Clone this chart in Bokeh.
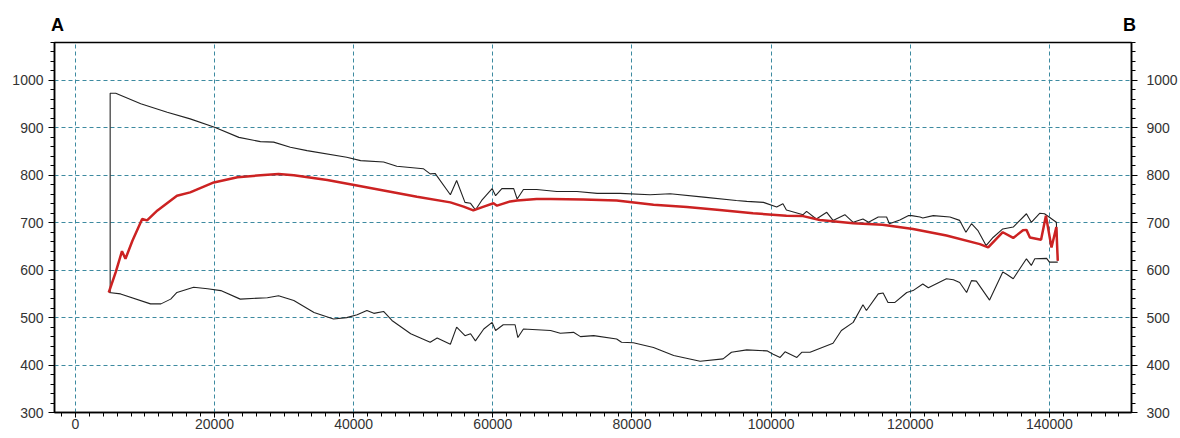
from bokeh.plotting import figure
from bokeh.models import Range1d, LinearAxis, SingleIntervalTicker, BasicTickFormatter, Div
from bokeh.layouts import column
from bokeh.embed import file_html
from bokeh.resources import INLINE

# ---- data ----
upper_x = [5000, 5000, 5800, 9400, 13200, 16500, 20100, 23500, 26600, 28500, 30900, 33300,
           39000, 41000, 44300, 46200, 50000, 51000, 51700, 53900, 54800, 56000, 56800, 57500,
           58400, 59900, 60400, 61300, 63000, 63500, 64400, 66300, 69200, 72100, 75000, 78300,
           82600, 85500, 90300, 95000, 96500, 98900, 100800, 101700, 102200, 104600, 105100,
           106500, 108000, 108900, 110600, 111800, 113200, 114000, 115400, 116600, 117000,
           118500, 119700, 120200, 121400, 121800, 123300, 125700, 127100, 128000, 128800,
           129700, 130900, 131900, 133300, 134800, 136700, 137400, 138600, 139300, 141000, 141200]
upper_y = [553, 973, 973, 951, 933, 919, 901, 880, 871, 870, 859, 852,
           838, 831, 828, 819, 814, 803, 804, 759, 789, 743, 741, 727,
           747, 772, 757, 772, 772, 750, 770, 770, 766, 766, 762, 762,
           759, 761, 754, 747, 745, 743, 733, 740, 727, 717, 724,
           708, 722, 705, 717, 701, 708, 701, 712, 712, 698,
           706, 715, 715, 712, 710, 715, 712, 705, 680, 698,
           684, 652, 669, 687, 691, 719, 701, 720, 719, 701, 620]

red_x = [4800, 5800, 6700, 7200, 8200, 9600, 10300, 11800, 14600, 16500, 19900, 23300, 26600,
         29200, 31400, 36200, 39500, 44300, 49100, 53900, 55800, 57200, 58700, 60100, 60600,
         62500, 63500, 66300, 68300, 73000, 77800, 83100, 87900, 92600, 97400, 102200, 104600,
         107000, 111800, 116000, 120400, 125200, 130000, 131200, 132100, 133300, 134800, 136200,
         136700, 137200, 138800, 139500, 140300, 141000, 141200]
red_y = [553, 596, 640, 624, 662, 708, 705, 726, 757, 764, 785, 796, 800,
         803, 800, 790, 781, 768, 755, 743, 734, 726, 734, 741, 736,
         745, 747, 750, 750, 749, 747, 738, 733, 727, 720, 715, 714,
         706, 699, 696, 687, 673, 655, 648, 662, 680, 668, 684,
         685, 669, 664, 715, 648, 691, 620]

lower_x = [4800, 6500, 10800, 12300, 13700, 14600, 17000, 19000, 20900, 23700, 27600, 29200,
           31400, 34300, 37100, 39000, 40500, 41900, 42900, 44300, 45500, 48200, 51000, 52000,
           53900, 54800, 56000, 56800, 57500, 58700, 59900, 60400, 61500, 63200, 63600, 64400,
           68300, 69700, 71600, 72600, 74500, 77800, 78500, 80200, 83100, 86000, 89800, 93100,
           94300, 96500, 99400, 100300, 101300, 102000, 103700, 104400, 105600, 108900, 110100,
           111800, 113200, 113700, 115400, 116100, 116800, 117800, 119500, 120400, 121800,
           122600, 125200, 126200, 127100, 128100, 128800, 129500, 131400, 133300, 133800,
           134800, 136700, 137400, 137900, 139600, 140000, 141200]
lower_y = [553, 550, 529, 529, 539, 553, 564, 561, 557, 539, 542, 546,
           536, 511, 497, 500, 506, 515, 509, 513, 494, 466, 448, 457,
           444, 480, 462, 466, 451, 476, 490, 473, 485, 485, 458, 476,
           473, 467, 469, 460, 462, 455, 448, 447, 437, 420, 408, 413,
           427, 432, 430, 423, 416, 428, 416, 427, 427, 446, 473,
           490, 527, 515, 550, 552, 532, 532, 553, 557, 571,
           563, 582, 580, 574, 553, 578, 577, 537, 596, 592,
           582, 624, 610, 624, 625, 617, 617]

corner_labels = ["A", "B"]

FONT = "Liberation Sans"
GRID = "#3d8aa0"
TXT = "#333333"
HEAD_H = 40

head = Div(
    text=(
        '<div style="position:relative;width:1180px;height:%dpx;'
        "font-family:'Liberation Sans';font-weight:bold;font-size:18px;color:black;\">"
        '<span style="position:absolute;left:51px;top:16px;line-height:18px;">%s</span>'
        '<span style="position:absolute;left:1123px;top:16px;line-height:18px;">%s</span>'
        '</div>' % (HEAD_H, corner_labels[0], corner_labels[1])
    ),
    width=1180, height=HEAD_H, margin=(0, 0, 0, 0),
)

p = figure(width=1180, height=438 - HEAD_H, output_backend="svg", toolbar_location=None,
           x_range=Range1d(-3000, 151800), y_range=Range1d(300, 1080),
           min_border_left=54, min_border_right=48, min_border_top=42 - HEAD_H,
           min_border_bottom=26, margin=(0, 0, 0, 0))
p.background_fill_color = "white"
p.border_fill_color = "white"
p.outline_line_color = "black"
p.outline_line_width = 1.5

xt = SingleIntervalTicker(interval=20000, num_minor_ticks=10)
yt = SingleIntervalTicker(interval=100, num_minor_ticks=5)
p.xaxis.ticker = xt
p.xaxis.formatter = BasicTickFormatter(use_scientific=False)
p.yaxis.ticker = yt

right = LinearAxis(ticker=SingleIntervalTicker(interval=100, num_minor_ticks=5))
p.add_layout(right, "right")

for ax in p.xaxis:
    ax.major_tick_out = 5
    ax.major_tick_in = 0
    ax.minor_tick_out = 4
    ax.minor_tick_in = 0
    ax.major_label_standoff = 1
for ax in p.yaxis:
    ax.major_tick_out = 6
    ax.major_tick_in = 0
    ax.minor_tick_out = 4
    ax.minor_tick_in = 0
    ax.major_label_standoff = 5
right.major_label_standoff = 9

for ax in list(p.xaxis) + list(p.yaxis):
    ax.axis_line_color = "black"
    ax.axis_line_width = 1.5
    ax.major_tick_line_color = "black"
    ax.minor_tick_line_color = "black"
    ax.major_label_text_font = FONT
    ax.major_label_text_font_size = "14px"
    ax.major_label_text_color = TXT

p.xgrid.ticker = xt
p.ygrid.ticker = yt
for g in list(p.xgrid) + list(p.ygrid):
    g.grid_line_color = GRID
    g.grid_line_dash = "4 3"
    g.grid_line_width = 1

p.line(upper_x, upper_y, line_color="#222222", line_width=1.1)
p.line(lower_x, lower_y, line_color="#222222", line_width=1.1)
p.line(red_x, red_y, line_color="#cc2222", line_width=2.5)

layout = column(head, p, spacing=0, margin=(0, 0, 0, 0))

open("out.html", "w").write(file_html(layout, INLINE))
